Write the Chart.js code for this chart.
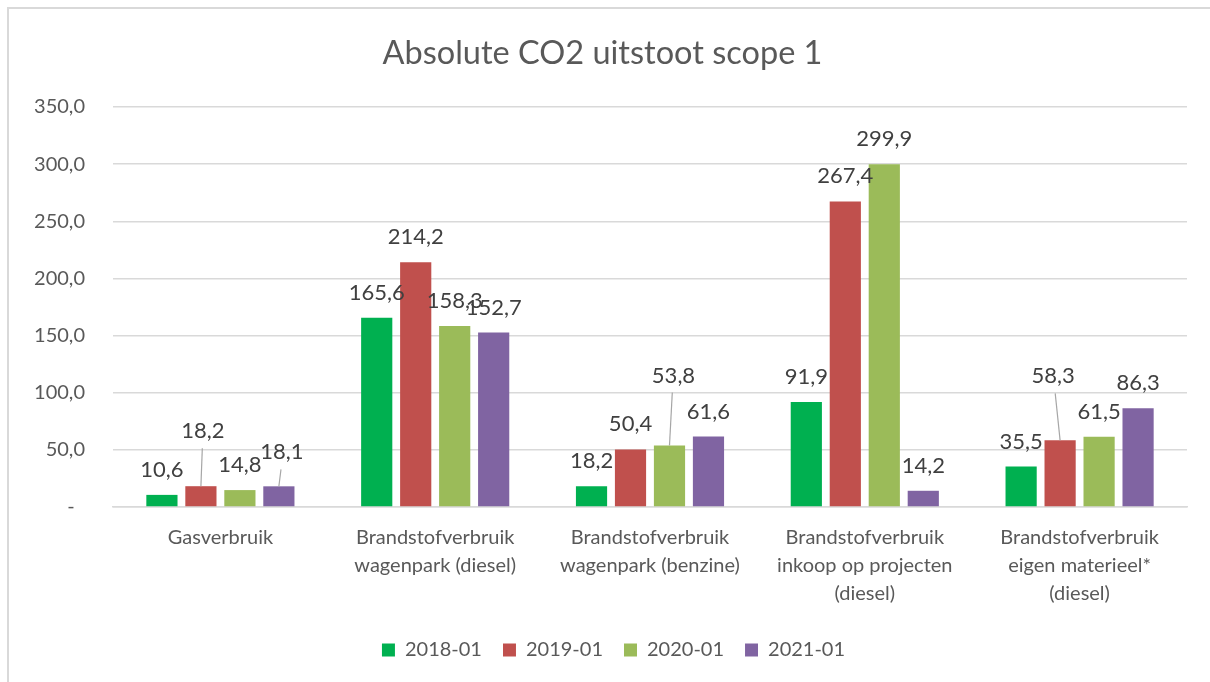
<!DOCTYPE html>
<html>
<head>
<meta charset="utf-8">
<title>Absolute CO2 uitstoot scope 1</title>
<script src="https://cdn.jsdelivr.net/npm/chart.js@4"></script>
<style>
    body { margin: 0; background: #ffffff; }
    #wrap { width: 1210px; height: 682px; position: relative; }
</style>
</head>
<body>
<div id="wrap"><canvas id="chart"></canvas></div>
<script>
const categories = [
    ["Gasverbruik"],
    ["Brandstofverbruik", "wagenpark (diesel)"],
    ["Brandstofverbruik", "wagenpark (benzine)"],
    ["Brandstofverbruik", "inkoop op projecten", "(diesel)"],
    ["Brandstofverbruik", "eigen materieel*", "(diesel)"]
];
const seriesNames = ["2018-01", "2019-01", "2020-01", "2021-01"];
const values2018 = [10.6, 165.6, 18.2, 91.9, 35.5];
const values2019 = [18.2, 214.2, 50.4, 267.4, 58.3];
const values2020 = [14.8, 158.3, 53.8, 299.9, 61.5];
const values2021 = [18.1, 152.7, 61.6, 14.2, 86.3];
const yTicks = [0, 50, 100, 150, 200, 250, 300, 350];

const colors = ["#00B050", "#C0504D", "#9BBB59", "#8064A2"];
const FONT = "Lato, 'Open Sans', sans-serif";

// labels that Excel moved away from the bar (dataset, index) -> shift in px, with a leader line
const labelShift = {
    "1-0": { dx: 2, dy: -30, leader: true },
    "3-0": { dx: 3, dy: -9, leader: true },
    "2-2": { dx: 4, dy: -45, leader: true },
    "1-4": { dx: -7, dy: -39, leader: true }
};

function fmt(v) {
    return v.toFixed(1).replace(".", ",");
}

const labelPlugin = {
    id: "barLabels",
    afterLayout(chart) {
        // Excel centres title and legend on the whole chart, not on the plot
        chart.legend.left += 20;
        chart.legend.right += 20;
        chart.titleBlock.left += 9;
        chart.titleBlock.right += 9;
    },
    beforeDraw(chart) {
        const ctx = chart.ctx;
        ctx.save();
        ctx.strokeStyle = "#d9d9d9";
        ctx.lineWidth = 2;
        ctx.strokeRect(8, 8, 1400, 900);
        ctx.restore();
    },
    afterDatasetsDraw(chart) {
        const ctx = chart.ctx;
        ctx.save();
        ctx.font = "22px " + FONT;
        ctx.textAlign = "center";
        ctx.textBaseline = "middle";
        chart.data.datasets.forEach((ds, di) => {
            const meta = chart.getDatasetMeta(di);
            meta.data.forEach((bar, i) => {
                const s = labelShift[di + "-" + i] || { dx: 0, dy: 0 };
                const lx = bar.x + s.dx;
                const ly = bar.y - 25 + s.dy;
                if (s.leader) {
                    ctx.strokeStyle = "#a6a6a6";
                    ctx.lineWidth = 1.2;
                    ctx.beginPath();
                    ctx.moveTo(lx - s.dx * 0.3, ly + 17);
                    ctx.lineTo(bar.x, bar.y);
                    ctx.stroke();
                }
                ctx.fillStyle = "#404040";
                ctx.fillText(fmt(ds.data[i]), lx, ly);
            });
        });
        ctx.restore();
    }
};

const allSeries = [values2018, values2019, values2020, values2021];

new Chart(document.getElementById("chart"), {
    type: "bar",
    data: {
        labels: categories,
        datasets: allSeries.map((vals, k) => ({
            label: seriesNames[k],
            data: vals,
            backgroundColor: colors[k],
            borderWidth: 0,
            barPercentage: 0.8,
            categoryPercentage: 0.726
        }))
    },
    options: {
        responsive: true,
        maintainAspectRatio: false,
        animation: false,
        layout: { padding: { top: 10, right: 23, left: 0, bottom: 12 } },
        plugins: {
            title: {
                display: true,
                text: "Absolute CO2 uitstoot scope 1",
                color: "#595959",
                font: { family: FONT, size: 32.5, weight: "normal" },
                padding: { top: 24, bottom: 34 }
            },
            legend: {
                position: "bottom",
                labels: {
                    color: "#595959",
                    font: { family: FONT, size: 20 },
                    boxWidth: 13,
                    boxHeight: 13,
                    padding: 21
                }
            },
            tooltip: { enabled: false }
        },
        scales: {
            x: {
                grid: { display: false, drawTicks: false },
                border: { display: true, color: "#d9d9d9", width: 1.5 },
                ticks: {
                    color: "#595959",
                    font: { family: FONT, size: 20, lineHeight: 1.4 },
                    padding: 17,
                    maxRotation: 0,
                    autoSkip: false
                },
                afterFit(scale) { scale.height = 112; }
            },
            y: {
                min: 0,
                max: 350,
                afterBuildTicks(scale) { scale.ticks = yTicks.map(v => ({ value: v })); },
                grid: { color: "#d9d9d9", lineWidth: 1.5, drawTicks: false },
                border: { display: false },
                ticks: {
                    color: "#595959",
                    font: { family: FONT, size: 20 },
                    padding: 28,
                    callback: v => v === 0 ? "-  " : fmt(v)
                },
                afterFit(scale) { scale.width = 113; }
            }
        }
    },
    plugins: [labelPlugin]
});
</script>
</body>
</html>
